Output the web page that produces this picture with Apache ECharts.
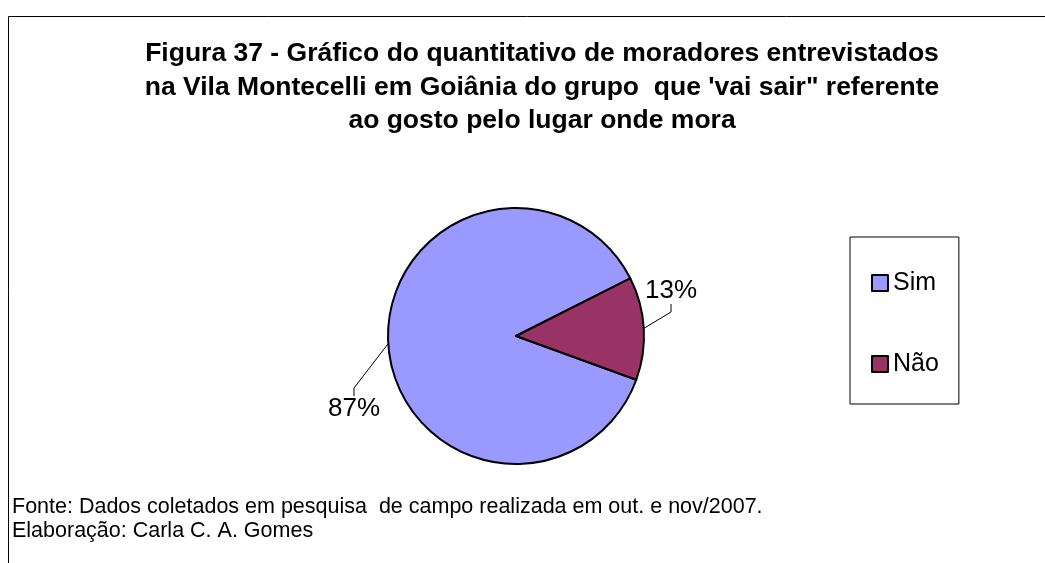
<!DOCTYPE html>
<html>
<head>
<meta charset="utf-8">
<script src="https://cdn.jsdelivr.net/npm/echarts@6/dist/echarts.min.js"></script>
<style>
  html, body { margin: 0; padding: 0; background: #fff; }
  #container { width: 1045px; height: 563px; }
</style>
</head>
<body>
<div id="container"></div>
<script>
var categories = ['Sim', 'Não'];
var values = [87, 13];
var colors = ['#9999FF', '#993366'];

var titleText = "Figura 37 - Gráfico do quantitativo de moradores entrevistados\nna Vila Montecelli em Goiânia do grupo  que 'vai sair\" referente\nao gosto pelo lugar onde mora";
var footText = "Fonte: Dados coletados em pesquisa  de campo realizada em out. e nov/2007.\nElaboração: Carla C. A. Gomes";

var font = 'Liberation Sans, Arial, sans-serif';
var dom = document.getElementById("container");
var myChart = echarts.init(dom);

var pieData = categories.map((c, i) => ({
  name: c,
  value: values[i],
  itemStyle: { color: colors[i] }
}));

var option = {
  animation: false,
  textStyle: { fontFamily: font },
  legend: {
    orient: 'vertical',
    left: 850,
    top: 237,
    data: categories,
    icon: 'rect',
    itemWidth: 16,
    itemHeight: 16,
    itemGap: 55,
    itemTextGap: 6,
    padding: [33, 20, 27, 21],
    borderColor: '#000',
    borderWidth: 1,
    selectedMode: false,
    textStyle: { fontSize: 25, color: '#000', lineHeight: 26 }
  },
  graphic: [
    {
      type: 'rect',
      shape: { x: 8.5, y: 16.5, width: 1100, height: 600 },
      style: { fill: 'none', stroke: '#000', lineWidth: 1 },
      silent: true
    },
    {
      // title, each line centred on the same axis
      type: 'text',
      x: 542,
      y: 37,
      style: {
        text: titleText,
        align: 'center',
        verticalAlign: 'top',
        fontSize: 26.5,
        fontWeight: 'bold',
        lineHeight: 33.5,
        fill: '#000',
        fontFamily: font
      }
    },
    {
      type: 'text',
      left: 12,
      top: 495,
      style: {
        text: footText,
        fontSize: 21.5,
        lineHeight: 24,
        fill: '#000',
        fontFamily: font
      }
    }
  ],
  series: [
    {
      type: 'pie',
      center: [516, 336],
      radius: 128,
      startAngle: -20,
      clockwise: true,
      data: pieData,
      itemStyle: { borderColor: '#000', borderWidth: 2 },
      label: {
        show: true,
        formatter: '{d}%',
        fontSize: 26,
        color: '#000',
        position: 'outside'
      },
      labelLine: {
        show: true,
        length: 25,
        length2: 8,
        lineStyle: { color: '#000', width: 1 }
      },
      labelLayout: function (params) {
        if (params.dataIndex === 0) {
          return { x: 354, y: 409, align: 'center', verticalAlign: 'middle' };
        }
        return { x: 671, y: 291, align: 'center', verticalAlign: 'middle' };
      },
      emphasis: { disabled: true }
    }
  ]
};

myChart.setOption(option);
window.onresize = function() {
  myChart.resize();
};
</script>
</body>
</html>
